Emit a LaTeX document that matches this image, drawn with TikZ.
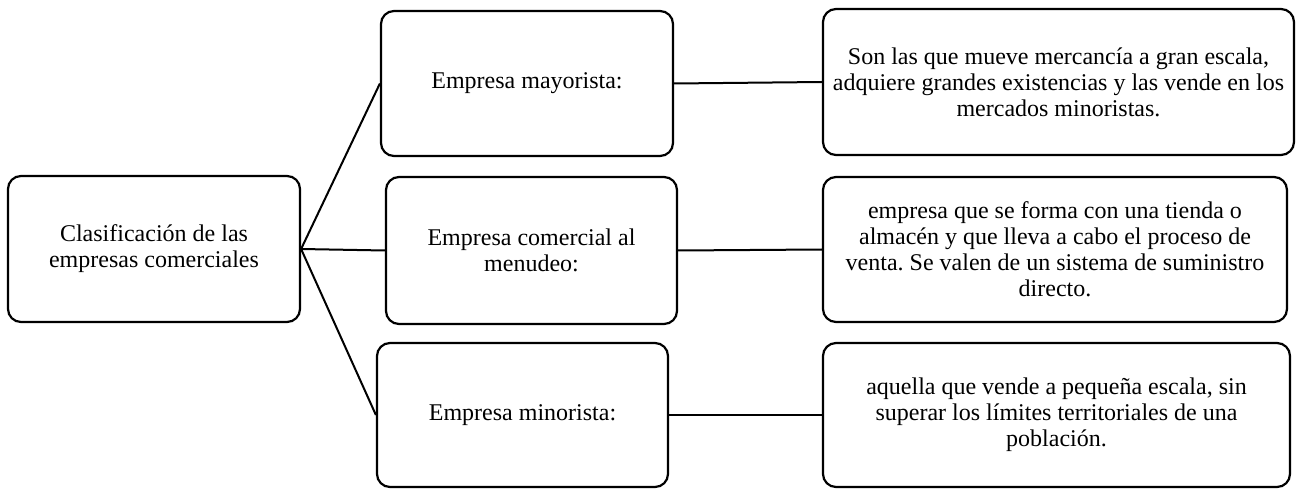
\documentclass[tikz,border=0pt]{standalone}
\usepackage{fontspec}
\setmainfont{Liberation Serif}
\frenchspacing
\begin{document}
\begin{tikzpicture}[x=1pt,y=-1pt,
  box/.style={draw=black,line width=2.2pt,rounded corners=13pt,fill=white,
    align=center,inner sep=0pt,font=\fontsize{24}{26}\selectfont},
  link/.style={draw=black,line width=2pt}]
\useasboundingbox (0,0) rectangle (1302,489);
\node[box,minimum width=292,minimum height=146] (L) at (154,249) {Clasificación de las\\empresas comerciales};
\node[box,minimum width=292,minimum height=145] (M1) at (527,83.5) {Empresa mayorista:};
\node[box,minimum width=291,minimum height=147] (M2) at (531.5,250.5) {Empresa comercial al\\menudeo:};
\node[box,minimum width=291,minimum height=144] (M3) at (522.5,415) {Empresa minorista:};
\node[box,minimum width=471,minimum height=146] (R1) at (1058.5,82) {Son las que mueve mercancía a gran escala,\\adquiere grandes existencias y las vende en los\\mercados minoristas.};
\node[box,minimum width=464,minimum height=145] (R2) at (1055,249.5) {empresa que se forma con una tienda o\\almacén y que lleva a cabo el proceso de\\venta. Se valen de un sistema de suministro\\directo.};
\node[box,minimum width=467,minimum height=144] (R3) at (1056.5,415) {aquella que vende a pequeña escala, sin\\superar los límites territoriales de una\\población.};
\draw[link] (L.east) -- (M1.west);
\draw[link] (L.east) -- (M2.west);
\draw[link] (L.east) -- (M3.west);
\draw[link] (M1.east) -- (R1.west);
\draw[link] (M2.east) -- (R2.west);
\draw[link] (M3.east) -- (R3.west);
\end{tikzpicture}
\end{document}
